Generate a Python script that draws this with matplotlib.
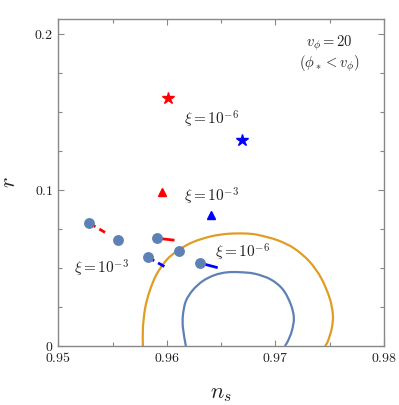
import matplotlib
matplotlib.use("Agg")
import matplotlib.pyplot as plt
from matplotlib.ticker import FixedLocator
from matplotlib.path import Path
from matplotlib.patches import PathPatch

plt.rcParams['mathtext.fontset'] = 'cm'

# ---- data ----
# Planck-like contours (n_s, r)
inner_ns = [0.96176, 0.96149, 0.96149, 0.96176, 0.96241, 0.96333, 0.96443, 0.96554, 0.96674,
            0.96812, 0.96959, 0.97070, 0.97143, 0.97171, 0.97152, 0.97116, 0.97088]
inner_r = [0.0, 0.0115, 0.0199, 0.0288, 0.0359, 0.0417, 0.0455, 0.0472, 0.0473,
           0.0463, 0.0426, 0.0362, 0.0266, 0.0179, 0.0096, 0.0032, 0.0]
outer_ns = [0.95780, 0.95780, 0.95801, 0.95842, 0.95903, 0.95995, 0.96103, 0.96241, 0.96409,
            0.96563, 0.96720, 0.96840, 0.97024, 0.97177, 0.97315, 0.97422, 0.97500, 0.97530,
            0.97521, 0.97484, 0.97459]
outer_r = [0.0, 0.0115, 0.0244, 0.0351, 0.0455, 0.0549, 0.0613, 0.0666, 0.0703,
           0.0719, 0.0721, 0.0712, 0.0677, 0.0624, 0.0541, 0.0436, 0.0308, 0.0201,
           0.0115, 0.0030, 0.0]

# circles
circ_ns = [0.95286, 0.9555, 0.95909, 0.95826, 0.96108, 0.96305]
circ_r = [0.0788, 0.068, 0.0691, 0.0569, 0.0611, 0.0532]

# segments: (start ns, start r), (end ns, end r)
red_dash = [(0.95286, 0.0788), (0.95431, 0.0728)]
red_solid = [(0.95909, 0.0691), (0.96071, 0.0678)]
blue_dash = [(0.95826, 0.0569), (0.95982, 0.0508)]
blue_solid = [(0.96305, 0.0532), (0.96469, 0.0502)]

stars_ns = [0.96013, 0.96689]
stars_r = [0.159, 0.1321]
tri_ns = [0.95958, 0.96406]
tri_r = [0.0989, 0.084]
mark_colors = ['#FF0000', '#0000FF']

labels = [r'$\xi = 10^{-6}$', r'$\xi = 10^{-3}$', r'$\xi = 10^{-3}$', r'$\xi = 10^{-6}$']
label_ns = [0.9641, 0.9641, 0.9540, 0.9670]
label_r = [0.1450, 0.0960, 0.0500, 0.0600]

# ---- figure ----
fig = plt.figure(figsize=(3.99, 4.05), dpi=100)
ax = fig.add_axes([0.146, 0.1457, 0.816, 0.8074])

blue_c = '#5E81B5'
orange_c = '#E19C24'


def smooth_curve(xs, ys, color):
    # Catmull-Rom through the traced points, drawn as cubic Bezier path
    pts = list(zip(xs, ys))
    n = len(pts)
    verts = [pts[0]]
    codes = [Path.MOVETO]
    for i in range(n - 1):
        p0 = pts[i - 1] if i > 0 else pts[i]
        p1 = pts[i]
        p2 = pts[i + 1]
        p3 = pts[i + 2] if i + 2 < n else pts[i + 1]
        c1 = (p1[0] + (p2[0] - p0[0]) / 6, p1[1] + (p2[1] - p0[1]) / 6)
        c2 = (p2[0] - (p3[0] - p1[0]) / 6, p2[1] - (p3[1] - p1[1]) / 6)
        verts += [c1, c2, p2]
        codes += [Path.CURVE4] * 3
    patch = PathPatch(Path(verts, codes), facecolor='none', edgecolor=color, lw=1.6, zorder=2)
    ax.add_patch(patch)


smooth_curve(outer_ns, outer_r, orange_c)
smooth_curve(inner_ns, inner_r, blue_c)


def seg(s, color, ls):
    ax.plot([s[0][0], s[1][0]], [s[0][1], s[1][1]], color=color, lw=2, ls=ls, zorder=3,
            solid_capstyle='butt', dash_capstyle='butt')


seg(red_dash, '#FF0000', (0, (2.6, 1.6)))
seg(red_solid, '#FF0000', '-')
seg(blue_dash, '#0000FF', (0, (2.6, 1.6)))
seg(blue_solid, '#0000FF', '-')

ax.plot(circ_ns, circ_r, 'o', color=blue_c, ms=6.8, ls='none', zorder=4)
for i in range(2):
    ax.plot(stars_ns[i], stars_r[i], '*', color=mark_colors[i], ms=9, ls='none', zorder=4)
    ax.plot(tri_ns[i], tri_r[i], '^', color=mark_colors[i], ms=5.5, ls='none', zorder=4)

for t, xx, yy in zip(labels, label_ns, label_r):
    ax.text(xx, yy, t, fontsize=11, ha='center', va='center', color='#222222')

ax.text(0.9750, 0.1940, r'$v_\phi = 20$', fontsize=10.5, ha='center', va='center', color='#222222')
ax.text(0.9750, 0.1810, r'$(\phi_* < v_\phi)$', fontsize=10.5, ha='center', va='center', color='#222222')

ax.set_xlim(0.95, 0.98)
ax.set_ylim(0, 0.2096)
ax.xaxis.set_major_locator(FixedLocator([0.95, 0.96, 0.97, 0.98]))
ax.xaxis.set_minor_locator(FixedLocator([0.955, 0.965, 0.975]))
ax.yaxis.set_major_locator(FixedLocator([0.0, 0.1, 0.2]))
ax.yaxis.set_minor_locator(FixedLocator([0.025, 0.05, 0.075, 0.125, 0.15, 0.175]))
ax.set_xticklabels([r'$0.95$', r'$0.96$', r'$0.97$', r'$0.98$'])
ax.set_yticklabels([r'$0$', r'$0.1$', r'$0.2$'])

fc = '#888888'
for sp in ax.spines.values():
    sp.set_color(fc)
    sp.set_linewidth(1.0)
ax.tick_params(which='both', direction='in', top=True, right=True, color=fc,
               labelsize=10, labelcolor='#222222', length=4, width=0.8)
ax.tick_params(which='minor', length=3)

ax.set_xlabel(r'$n_s$', fontsize=16, labelpad=14, color='#222222')
ax.set_ylabel(r'$r$', fontsize=16, labelpad=11, color='#222222')

fig.savefig('out.png', dpi=100)
